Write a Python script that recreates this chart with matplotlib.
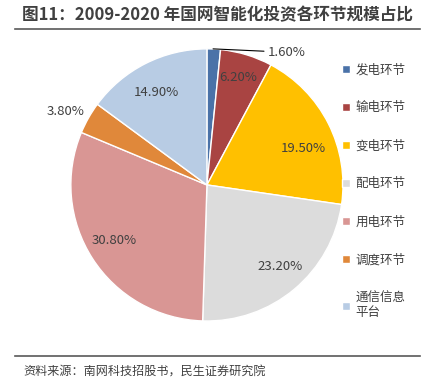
import matplotlib.pyplot as plt
from matplotlib.lines import Line2D

plt.rcParams['font.family'] = ['Noto Sans CJK SC', 'DejaVu Sans']

# data
labels = ['发电环节', '输电环节', '变电环节', '配电环节', '用电环节', '调度环节', '通信信息\n平台']
shares = [1.60, 6.20, 19.50, 23.20, 30.80, 3.80, 14.90]
colors = ['#4a72a8', '#a94442', '#ffc000', '#dcdcdc', '#d99694', '#e0883a', '#b8cce4']

fig = plt.figure(figsize=(4.32, 3.91), dpi=100)
ax = fig.add_axes([0.164, 0.179, 0.63, 0.696])

wedges, texts = ax.pie(shares, colors=colors, startangle=90, counterclock=False,
                       wedgeprops=dict(edgecolor='white', linewidth=1.0),
                       labels=['%.2f%%' % s for s in shares], labeldistance=0.78,
                       textprops=dict(fontsize=9.5, color='#404040'))
ax.set_xlim(-1, 1)
ax.set_ylim(-1, 1)
ax.set_aspect('equal')
for t in texts:
    t.set_ha('center')
    t.set_va('center')

# label positions nudged to where the original puts them
label_pos = [None, (0.228, 0.79), (0.706, 0.27), (0.54, -0.60),
             (-0.68, -0.41), (-1.04, 0.54), (-0.37, 0.68)]
for t, p in zip(texts, label_pos):
    if p is not None:
        t.set_position(p)

texts[0].set_visible(False)
ax.annotate('%.2f%%' % shares[0], xy=(0.045, 1.0), xytext=(0.45, 0.975),
            fontsize=9.5, color='#404040', va='center',
            arrowprops=dict(arrowstyle='-', color='black', lw=0.8,
                            shrinkA=1, shrinkB=0))

ax.legend(wedges, labels, loc='upper left', bbox_to_anchor=(0.979, 0.965),
          frameon=False, fontsize=9, labelspacing=2.0, handlelength=0.65,
          handleheight=0.65, handletextpad=0.4, labelcolor='#404040',
          borderaxespad=0)

fig.text(0.05, 0.962, '图11：2009-2020 年国网智能化投资各环节规模占比',
         fontsize=12, fontweight='bold', color='#404040', va='center')
fig.add_artist(Line2D([0.035, 0.972], [0.925, 0.925], color='#595959', lw=1.2))
fig.add_artist(Line2D([0.035, 0.972], [0.09, 0.09], color='#595959', lw=1.2))
fig.text(0.053, 0.048, '资料来源：南网科技招股书，民生证券研究院',
         fontsize=8.7, color='#404040', va='center')

fig.savefig('out.png', dpi=100)
